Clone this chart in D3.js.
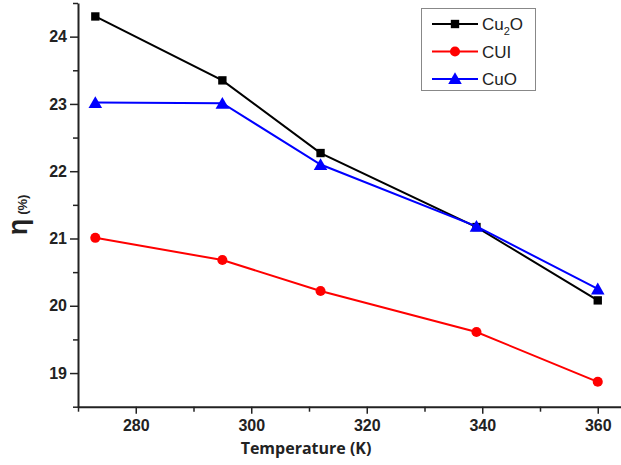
<!DOCTYPE html>
<html><head><meta charset="utf-8">
<script src="https://cdn.jsdelivr.net/npm/d3@7"></script>
<style>body{margin:0;background:#fff}svg{display:block}</style>
</head><body>
<script>
const temperatures = [273, 295, 312, 339, 360];
const cu2o = [24.30, 23.35, 22.27, 21.17, 20.08];
const cui = [21.01, 20.68, 20.22, 19.61, 18.87];
const cuo = [23.02, 23.01, 22.10, 21.18, 20.25];
const xTicks = [280, 300, 320, 340, 360];
const yTicks = [19, 20, 21, 22, 23, 24];
const seriesNames = ["Cu2O", "CUI", "CuO"];
const seriesColors = ["#000000", "#ff0000", "#0000ff"];
const seriesShapes = [d3.symbolSquare, d3.symbolCircle, d3.symbolTriangle];

const W = 621, H = 465;
const svg = d3.select("body").append("svg").attr("width", W).attr("height", H);
const x = d3.scaleLinear().domain([270, 365]).range([78, 78 + 95 * 5.775]);
const y = d3.scaleLinear().domain([18.5, 24.5]).range([406.7, 3]);

const font = "'Liberation Sans', Arial, sans-serif";
// axes
const xAxis = d3.axisBottom(x).tickValues(d3.range(270, 366, 10)).tickSize(6).tickSizeOuter(0)
  .tickFormat(d => xTicks.includes(d) ? d : "");
const gx = svg.append("g").attr("transform", `translate(0,${y(18.5)})`).call(xAxis);
gx.selectAll("text").attr("font-family", font).attr("font-weight", "bold").attr("font-size", 16).attr("fill", "#222").attr("dy", "0.95em");
gx.selectAll("line").attr("stroke", "#222").attr("stroke-width", 1.5).attr("y2", d => xTicks.includes(d) ? 7 : 5);
gx.select(".domain").attr("stroke", "#222").attr("stroke-width", 2);

const yAxis = d3.axisLeft(y).tickValues(d3.range(18.5, 24.51, 0.5)).tickSize(6).tickSizeOuter(0)
  .tickFormat(d => yTicks.includes(d) ? d : "");
const gy = svg.append("g").attr("transform", `translate(${x(270)},0)`).call(yAxis);
gy.selectAll("text").attr("font-family", font).attr("font-weight", "bold").attr("font-size", 16).attr("fill", "#222").attr("x", -11);
gy.selectAll("line").attr("stroke", "#222").attr("stroke-width", 1.5).attr("x2", d => yTicks.includes(d) ? -8 : -5);
gy.select(".domain").attr("stroke", "#222").attr("stroke-width", 2);

// axis labels
svg.append("text").attr("x", 306).attr("y", 454).attr("text-anchor", "middle")
  .attr("font-family", "'Open Sans', sans-serif").attr("font-weight", "bold").attr("font-size", 16).attr("fill", "#222")
  .text("Temperature (K)");
const yl = svg.append("text").attr("transform", "translate(27,215) rotate(-90)").attr("text-anchor", "middle")
  .attr("font-family", font).attr("font-weight", "bold").attr("fill", "#222");
yl.append("tspan").attr("font-size", 27).text("η");
yl.append("tspan").attr("font-size", 13).attr("dx", 4).text("(%)");

// series
const allSeries = [cu2o, cui, cuo];
const sizes = [70, 80, 80];
allSeries.forEach((vals, i) => {
  const pts = temperatures.map((t, j) => [t, vals[j]]);
  svg.append("path").datum(pts)
    .attr("d", d3.line().x(d => x(d[0])).y(d => y(d[1])))
    .attr("fill", "none").attr("stroke", seriesColors[i]).attr("stroke-width", 2);
  svg.selectAll(null).data(pts).enter().append("path")
    .attr("transform", d => `translate(${x(d[0])},${y(d[1]) + (i === 2 ? 1.5 : 0)})`)
    .attr("d", d3.symbol().type(seriesShapes[i]).size(sizes[i]))
    .attr("fill", seriesColors[i]);
});

// legend
const lg = svg.append("g");
lg.append("rect").attr("x", 421.5).attr("y", 8.5).attr("width", 114).attr("height", 82)
  .attr("fill", "#fff").attr("stroke", "#888").attr("stroke-width", 1);
seriesNames.forEach((n, i) => {
  const yy = 24 + i * 27.5;
  lg.append("line").attr("x1", 432).attr("x2", 478).attr("y1", yy).attr("y2", yy)
    .attr("stroke", seriesColors[i]).attr("stroke-width", 2);
  lg.append("path").attr("transform", `translate(455,${yy + (i === 2 ? 1 : 0)})`)
    .attr("d", d3.symbol().type(seriesShapes[i]).size(sizes[i])).attr("fill", seriesColors[i]);
  const t = lg.append("text").attr("x", 482).attr("y", yy + 6).attr("font-family", font)
    .attr("font-size", 17).attr("fill", "#222");
  if (n === "Cu2O") {
    t.append("tspan").text("Cu");
    t.append("tspan").attr("font-size", 11).attr("dy", 5).text("2");
    t.append("tspan").attr("dy", -5).text("O");
  } else t.text(n);
});
</script>
</body></html>
